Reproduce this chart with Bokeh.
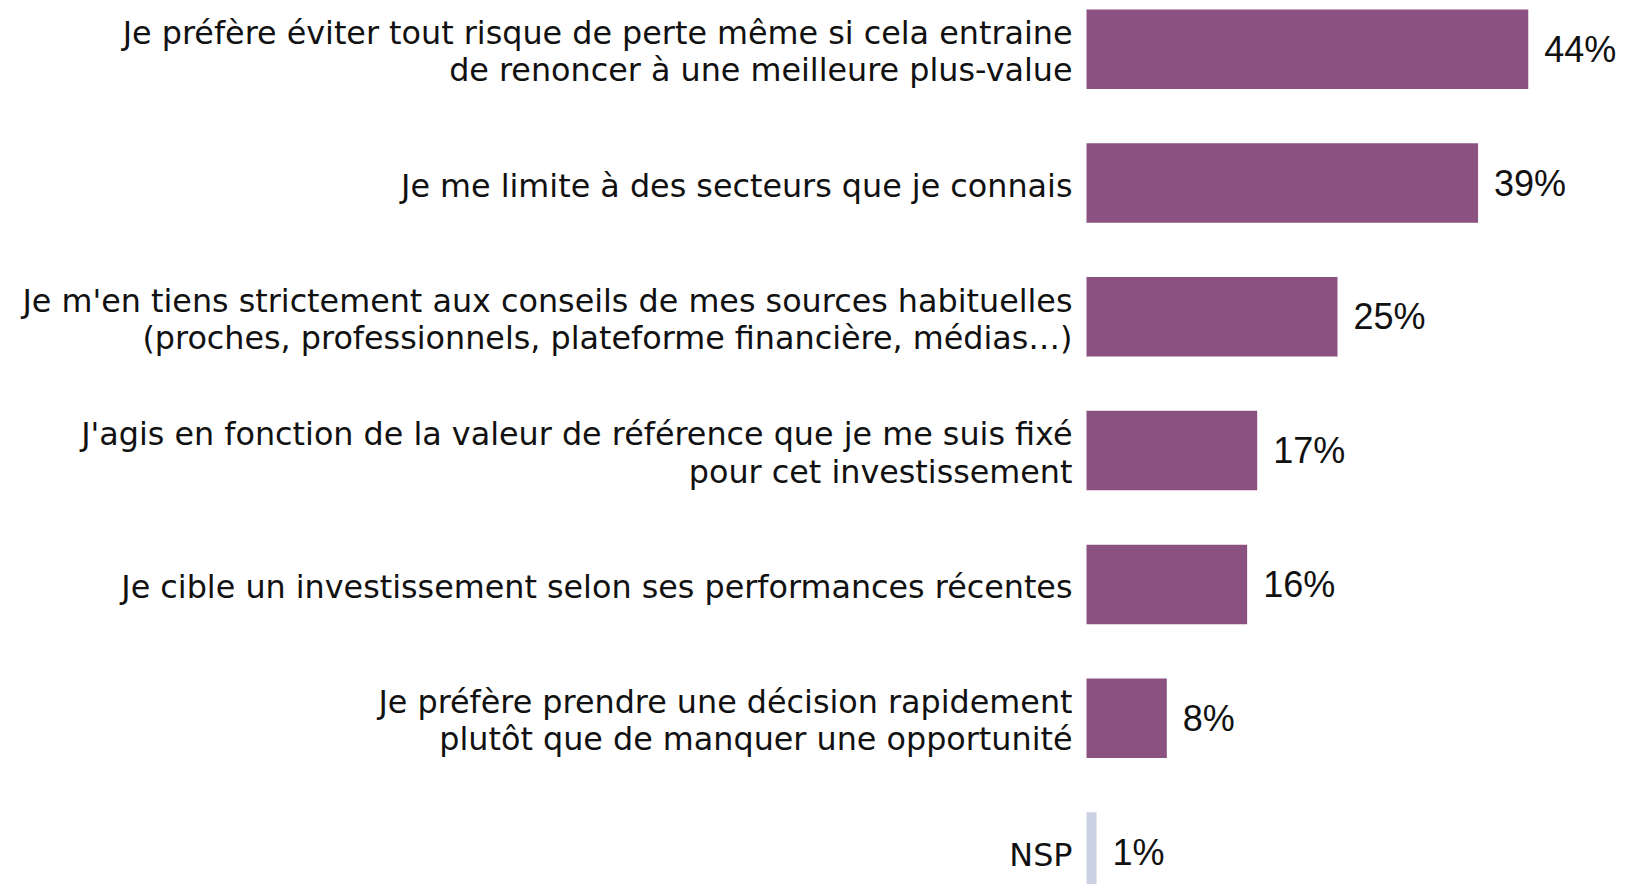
from bokeh.plotting import figure
from bokeh.models import ColumnDataSource, Range1d
from bokeh.core.properties import value
from bokeh.embed import file_html
from bokeh.resources import INLINE

labels = [
    "Je préfère éviter tout risque de perte même si cela entraine\nde renoncer à une meilleure plus-value",
    "Je me limite à des secteurs que je connais",
    "Je m'en tiens strictement aux conseils de mes sources habituelles\n(proches, professionnels, plateforme financière, médias…)",
    "J'agis en fonction de la valeur de référence que je me suis fixé\npour cet investissement",
    "Je cible un investissement selon ses performances récentes",
    "Je préfère prendre une décision rapidement\nplutôt que de manquer une opportunité",
    "NSP",
]
values = [44, 39, 25, 17, 16, 8, 1]
colors = ["#8B5181", "#8B5181", "#8B5181", "#8B5181", "#8B5181", "#8B5181", "#CAD2E3"]

W, H = 1625, 884
px_per_unit = 10.04
x0 = 1086
x_start = -x0 / px_per_unit
x_end = (W - x0) / px_per_unit
band = 133.8
c0 = 48.7
y_top = -c0 / band
y_bot = (H - c0) / band

src = ColumnDataSource(dict(
    y=list(range(len(values))),
    v=values,
    lab=labels,
    vt=[f"{v}%" for v in values],
    color=colors,
    zero=[0] * len(values),
))

p = figure(width=W, height=H, output_backend="svg", toolbar_location=None,
           x_range=Range1d(x_start, x_end), y_range=Range1d(y_bot, y_top),
           min_border=0, outline_line_color=None)
p.axis.visible = False
p.grid.visible = False
p.background_fill_color = "white"
p.border_fill_color = "white"

p.hbar(y="y", left=0, right="v", height=0.594, color="color", source=src, line_color=None)

p.text(x="zero", y="y", text="lab", source=src, x_offset=-14, y_offset=2,
       text_align="right", text_baseline="middle", text_font=value("DejaVu Sans"),
       text_font_size="31.8px", text_color="#111111", text_line_height=1.01)
p.text(x="v", y="y", text="vt", source=src, x_offset=16,
       text_align="left", text_baseline="middle", text_font=value("Liberation Sans"),
       text_font_size="36px", text_color="#111111")

open("out.html", "w").write(file_html(p, INLINE))
